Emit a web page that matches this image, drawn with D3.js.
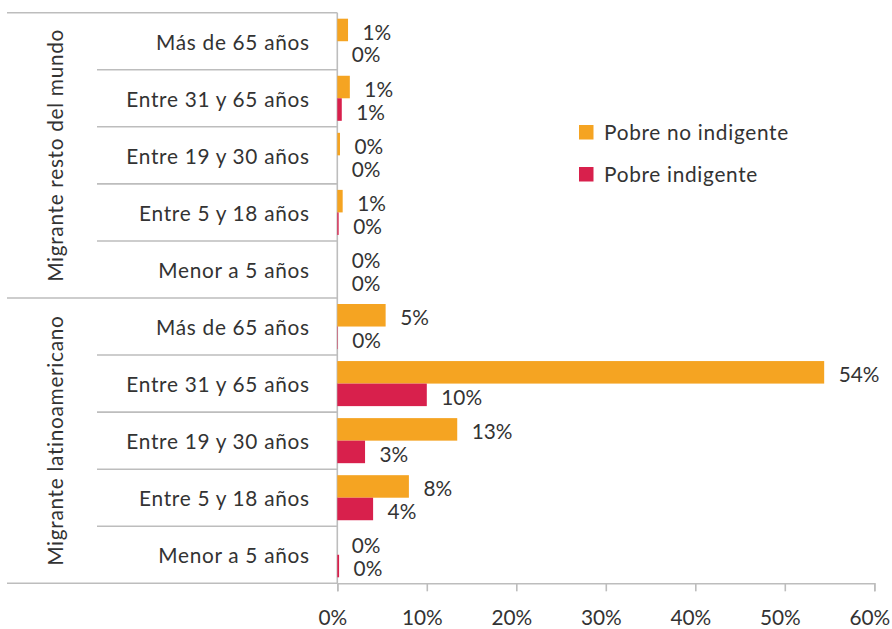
<!DOCTYPE html>
<html>
<head>
<meta charset="utf-8">
<script src="https://cdn.jsdelivr.net/npm/d3@7"></script>
<style>
  html, body { margin: 0; padding: 0; background: #fff; }
  svg { display: block; }
  text { font-family: Lato, "Open Sans", sans-serif; fill: #333; }
  text.lbl { letter-spacing: 0.7px; }
</style>
</head>
<body>
<svg id="chart" width="892" height="629"></svg>
<script>
// ---- data ----
const groups = ["Migrante resto del mundo", "Migrante latinoamericano"];
const ageGroups = ["Más de 65 años", "Entre 31 y 65 años", "Entre 19 y 30 años", "Entre 5 y 18 años", "Menor a 5 años"];
const seriesNames = ["Pobre no indigente", "Pobre indigente"];
const seriesColors = ["#F5A422", "#D8204C"];
// values in %, rows ordered as ageGroups, first group then second group
const pobreNoIndigente = [1.2, 1.4, 0.3, 0.6, 0.0, 5.4, 54.4, 13.4, 8.0, 0.0];
const pobreIndigente   = [0.0, 0.5, 0.0, 0.15, 0.0, 0.05, 10.0, 3.1, 4.0, 0.2];
const xTicks = [0, 10, 20, 30, 40, 50, 60];

// ---- layout ----
const svg = d3.select("#chart");
const plotLeft = 337.3, plotRight = 874.3, plotTop = 12.7, plotBottom = 583.3;
const tableLeft = 7, innerLeft = 97;
const gridColor = "#bdbdbd";
const fs = 20.8;

const rows = [];
groups.forEach((g, gi) => ageGroups.forEach((a, ai) => rows.push({ g, gi, a, ai, idx: gi * ageGroups.length + ai })));
rows.forEach(r => { r.values = [pobreNoIndigente[r.idx], pobreIndigente[r.idx]]; });

const x = d3.scaleLinear().domain([0, 60]).range([plotLeft, plotRight]);
const y = d3.scaleBand().domain(rows.map(r => r.idx)).range([plotTop, plotBottom]).padding(0);
const ySub = d3.scaleBand().domain([0, 1]).range([6, y.bandwidth() - 6]).padding(0);

// grid / table lines
const lines = svg.append("g").attr("stroke", gridColor).attr("stroke-width", 1.6).attr("fill", "none");
rows.forEach(r => {
  lines.append("line")
    .attr("x1", r.ai === 0 ? tableLeft : innerLeft).attr("x2", plotLeft)
    .attr("y1", y(r.idx)).attr("y2", y(r.idx));
});
lines.append("line").attr("x1", tableLeft).attr("x2", plotLeft).attr("y1", plotBottom).attr("y2", plotBottom);
lines.append("line").attr("x1", plotLeft).attr("x2", plotLeft).attr("y1", plotTop).attr("y2", plotBottom);

// bars
const rowG = svg.append("g").selectAll("g").data(rows).join("g")
  .attr("transform", r => `translate(0,${y(r.idx)})`);
rowG.selectAll("rect").data(r => r.values.map((v, si) => ({ v, si }))).join("rect")
  .attr("x", x(0))
  .attr("y", d => ySub(d.si))
  .attr("width", d => Math.max(0, x(d.v) - x(0)))
  .attr("height", ySub.bandwidth())
  .attr("fill", d => seriesColors[d.si]);
rowG.selectAll("text.val").data(r => r.values.map((v, si) => ({ v, si }))).join("text")
  .attr("class", "val")
  .attr("x", d => x(d.v) + 14.5)
  .attr("y", d => ySub(d.si) + ySub.bandwidth() / 2 + 10)
  .attr("font-size", fs)
  .text(d => Math.round(d.v) + "%");

// category labels
svg.append("g").selectAll("text").data(rows).join("text")
  .attr("class", "lbl")
  .attr("x", 309.7)
  .attr("y", r => y(r.idx) + y.bandwidth() / 2 + 8.3)
  .attr("text-anchor", "end")
  .attr("font-size", fs)
  .text(r => r.a);

// group labels
groups.forEach((g, gi) => {
  const y0 = y(gi * ageGroups.length), y1 = y(gi * ageGroups.length + ageGroups.length - 1) + y.bandwidth();
  svg.append("text")
    .attr("class", "lbl")
    .attr("transform", `translate(63.3,${(y0 + y1) / 2}) rotate(-90)`)
    .attr("text-anchor", "middle")
    .attr("font-size", fs)
    .text(g);
});

// x axis
const axis = d3.axisBottom(x).tickValues(xTicks).tickFormat(d => d + "%")
  .tickSize(8).tickPadding(19);
const ax = svg.append("g").attr("transform", `translate(0,${plotBottom})`).call(axis);
ax.selectAll("path, line").attr("stroke", gridColor).attr("stroke-width", 1.6);
ax.selectAll("text").attr("font-size", fs).attr("font-family", "Lato, sans-serif").attr("fill", "#333").attr("dx", -5);

// legend
const legend = svg.append("g").selectAll("g").data(seriesNames).join("g")
  .attr("transform", (d, i) => `translate(579,${125 + i * 42})`);
legend.append("rect").attr("width", 14.5).attr("height", 14.5).attr("fill", (d, i) => seriesColors[i]);
legend.append("text").attr("class", "lbl").attr("x", 25).attr("y", 7.3 + 7.5).attr("font-size", fs).text(d => d);
</script>
</body>
</html>
